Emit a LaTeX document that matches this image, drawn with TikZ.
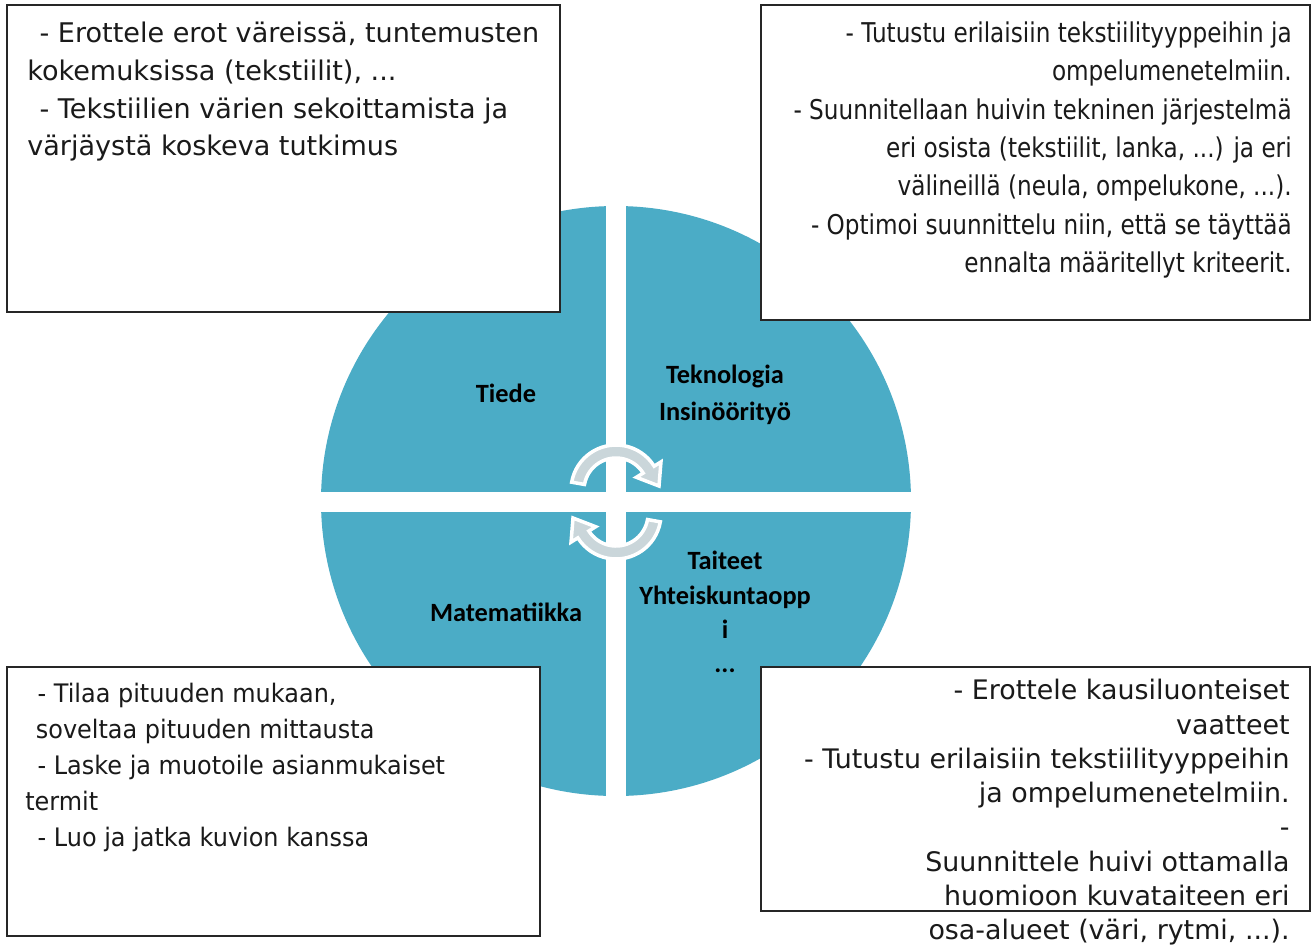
\documentclass[tikz,border=0pt]{standalone}
\usepackage{fontspec}
\setmainfont{DejaVu Sans}
\newfontfamily\labelfont{Carlito}
\newfontfamily\narrowfont{DejaVu Sans}[FakeStretch=0.85]
\newfontfamily\tahomafont{DejaVu Sans}[FakeStretch=0.94]
\usetikzlibrary{calc}
\definecolor{quadblue}{HTML}{4BACC6}
\definecolor{cyclegray}{HTML}{CAD6DA}
\definecolor{boxtext}{HTML}{1A1A1A}

\begin{document}
\begin{tikzpicture}[x=0.02cm,y=-0.02cm,
    quadlabel/.style={font=\labelfont\bfseries\fontsize{15}{21}\selectfont, align=center, text=black, inner sep=0pt},
    infobox/.style={draw=black!85, fill=white, line width=1.1pt},
    infotext/.style={inner sep=0pt, text=boxtext},
    cyclearrow/.style={fill=cyclegray, draw=white, line width=2pt, line join=miter}]
    \useasboundingbox (0,0) rectangle (1311,944);
    \fill[white] (0,0) rectangle (1311,944);
    \fill[quadblue] (616,501) circle (295);
    \fill[white] (606,190) rectangle (626,812);
    \fill[white] (310,492) rectangle (922,512);
    \coordinate (top) at (616,490);
    \coordinate (bot) at (616,514);
    \filldraw[cyclearrow] ($(top)+(190:45)$) arc[start angle=190,end angle=328,radius=45] -- ($(top)+(328:53)$) -- ($(top)+(43,-4)$) -- ($(top)+(328:24)$) -- ($(top)+(328:32)$) arc[start angle=328,end angle=190,radius=32] -- cycle;
    \filldraw[cyclearrow] ($(bot)+(10:45)$) arc[start angle=10,end angle=148,radius=45] -- ($(bot)+(148:53)$) -- ($(bot)+(-43,4)$) -- ($(bot)+(148:24)$) -- ($(bot)+(148:32)$) arc[start angle=148,end angle=10,radius=32] -- cycle;
    \node[quadlabel] (tiede) at (506,393) {Tiede};
    \node[quadlabel] (tekno) at (725,395) {Teknologia\\Insinöörityö};
    \node[quadlabel] (mate) at (506,612) {Matematiikka};
    \node[quadlabel, font=\labelfont\bfseries\fontsize{15}{19.5}\selectfont] (taide) at (725,612) {Taiteet\\Yhteiskuntaopp\\i\\...};
    \draw[infobox] (7,5) rectangle (560,312);
    \draw[infobox] (761,5) rectangle (1310,320);
    \draw[infobox] (7,667) rectangle (540,936);
    \draw[infobox] (761,667) rectangle (1310,911);
    \node[infotext, anchor=north west, align=left, font=\fontsize{15.4}{21.4}\selectfont] (tiedetext) at (27,22) {\hspace*{7pt}- Erottele erot väreissä, tuntemusten\\kokemuksissa (tekstiilit), ...\\\hspace*{7pt}- Tekstiilien värien sekoittamista ja\\värjäystä koskeva tutkimus};
    \node[infotext, anchor=north east, align=right, font=\narrowfont\fontsize{15.5}{21.9}\selectfont] (teknotext) at (1292,21) {- Tutustu erilaisiin tekstiilityyppeihin ja\\ompelumenetelmiin.\\- Suunnitellaan huivin tekninen järjestelmä\\eri osista (tekstiilit, lanka, ...) ja eri\\välineillä (neula, ompelukone, ...).\\- Optimoi suunnittelu niin, että se täyttää\\ennalta määritellyt kriteerit.};
    \node[infotext, anchor=north west, align=left, font=\tahomafont\fontsize{14.5}{20.4}\selectfont] (matetext) at (25,683) {\hspace*{7pt}- Tilaa pituuden mukaan,\\\hspace*{6pt}soveltaa pituuden mittausta\\\hspace*{7pt}- Laske ja muotoile asianmukaiset\\termit\\\hspace*{7pt}- Luo ja jatka kuvion kanssa};
    \node[infotext, anchor=north east, align=right, font=\fontsize{15.3}{19.5}\selectfont] (taidetext) at (1290,679) {- Erottele kausiluonteiset\\vaatteet\\- Tutustu erilaisiin tekstiilityyppeihin\\ja ompelumenetelmiin.\\-\\Suunnittele huivi ottamalla\\huomioon kuvataiteen eri\\osa-alueet (väri, rytmi, ...).};
\end{tikzpicture}
\end{document}
